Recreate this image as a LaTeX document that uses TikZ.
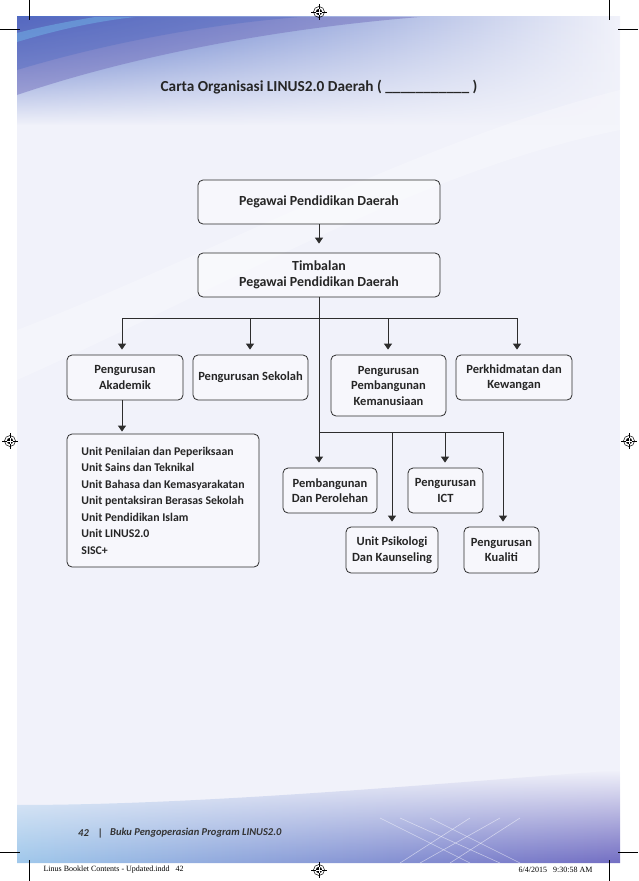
\documentclass[tikz,border=0pt]{standalone}
\usepackage{fontspec}
\setmainfont{Carlito}
\newfontfamily\slugfont{Liberation Serif}
\usetikzlibrary{arrows.meta,fadings}
\definecolor{pagebg}{RGB}{241,242,250}
\definecolor{linegray}{RGB}{45,45,45}
\definecolor{topblue}{RGB}{75,105,195}
\definecolor{topviolet}{RGB}{110,105,185}
\definecolor{topcyan}{RGB}{110,170,225}
\definecolor{botblue}{RGB}{160,200,235}
\definecolor{botviolet}{RGB}{115,110,195}
\tikzset{
  orgbox/.style={draw=linegray, line width=0.8pt, rounded corners=5pt, fill=white, fill opacity=0.45, text opacity=1, align=center, inner sep=0pt, text=black!85, font=\bfseries\fontsize{12.5}{15.5}\selectfont},
  topbox/.style={orgbox, minimum width=242pt, minimum height=44pt, font=\bfseries\fontsize{13.9}{16.5}\selectfont},
  link/.style={draw=linegray, line width=1pt},
  regmark/.style={line width=0.5pt},
  foot/.style={anchor=west, inner sep=0pt, font=\bfseries\itshape\fontsize{10.5}{13}\selectfont, text=black!80}
}
\begin{document}
\begin{tikzpicture}[x=1pt,y=-1pt,>={Triangle[width=8pt,length=6pt]}]
\useasboundingbox (0,0) rectangle (638,881);
% page and its bands
\fill[pagebg] (17,17) rectangle (620,863);
\shade[left color=topblue, right color=pagebg, path fading=south] (17,17) rectangle (620,125);
\fill[topviolet, opacity=.45] (17,95) .. controls (120,60) and (260,30) .. (420,17) -- (17,17) -- cycle;
\fill[topblue, opacity=.35] (17,70) .. controls (100,45) and (200,25) .. (300,17) -- (17,17) -- cycle;
\fill[topcyan, opacity=.6] (17,42) .. controls (50,32) and (90,22) .. (135,17) -- (95,17) .. controls (65,22) and (40,27) .. (17,33) -- cycle;
\fill[white, opacity=.25] (620,90) .. controls (420,140) and (200,260) .. (17,330) -- (17,380) .. controls (220,290) and (420,170) .. (620,130) -- cycle;
\shade[left color=botblue, right color=botviolet, path fading=north] (17,805) .. controls (200,805) and (420,785) .. (620,770) -- (620,863) -- (17,863) -- cycle;
\foreach \a/\b in {380/470, 400/500, 430/520, 470/400, 500/420, 520/450}
  \draw[white, opacity=.5, line width=0.6pt] (\a,818) -- (\b,863);
% crop and registration marks
\foreach \x/\ya/\yb in {29/0/20, 609/0/20, 29/860/881, 609/860/881} \draw[regmark] (\x,\ya) -- (\x,\yb);
\foreach \y/\xa/\xb in {29/0/20, 29/618/638, 852/0/20, 852/618/638} \draw[regmark] (\xa,\y) -- (\xb,\y);
\foreach \x/\y in {319/12, 319/870, 10/441, 629/441} {
  \draw[regmark] (\x,\y) circle (5.5pt);
  \fill (\x,\y) circle (3.2pt);
  \draw[regmark] (\x-8,\y) -- (\x+8,\y) (\x,\y-8) -- (\x,\y+8);
  \draw[white, line width=0.5pt] (\x-3.2,\y) -- (\x+3.2,\y) (\x,\y-3.2) -- (\x,\y+3.2);
}
% title
\node[font=\bfseries\fontsize{15.3}{18}\selectfont, text=black!85] (title) at (319,87) {Carta Organisasi LINUS2.0 Daerah ( \_\_\_\_\_\_\_\_\_\_\_ )};
% boxes
\node[topbox] (ppd) at (319,202) {Pegawai Pendidikan Daerah};
\node[topbox] (tppd) at (319,275) {Timbalan\\Pegawai Pendidikan Daerah};
\node[orgbox, minimum width=116pt, minimum height=45pt] (akad) at (125,377.5) {Pengurusan\\Akademik};
\node[orgbox, minimum width=115pt, minimum height=45pt] (sekolah) at (250.5,377.5) {Pengurusan Sekolah};
\node[orgbox, minimum width=115pt, minimum height=61pt] (kemanusiaan) at (388.5,385.5) {Pengurusan\\Pembangunan\\Kemanusiaan};
\node[orgbox, minimum width=116pt, minimum height=45pt] (kewangan) at (514,377.5) {Perkhidmatan dan\\Kewangan};
\node[orgbox, minimum width=192pt, minimum height=133pt, align=left, font=\bfseries\fontsize{11.8}{16.5}\selectfont] (unit) at (163,500.5) {Unit Penilaian dan Peperiksaan\\Unit Sains dan Teknikal\\Unit Bahasa dan Kemasyarakatan\\Unit pentaksiran Berasas Sekolah\\Unit Pendidikan Islam\\Unit LINUS2.0\\SISC+};
\node[orgbox, minimum width=94pt, minimum height=45pt] (perolehan) at (330,490.5) {Pembangunan\\Dan Perolehan};
\node[orgbox, minimum width=75pt, minimum height=45pt] (ict) at (445.5,490.5) {Pengurusan\\ICT};
\node[orgbox, minimum width=92pt, minimum height=46pt] (kaunseling) at (392,550) {Unit Psikologi\\Dan Kaunseling};
\node[orgbox, minimum width=75pt, minimum height=46pt] (kualiti) at (501.5,550) {Pengurusan\\Kualiti};
% connectors
\coordinate (b1) at (122,318);
\coordinate (b2) at (250,318);
\coordinate (b3) at (388,318);
\coordinate (b4) at (517,318);
\coordinate (c1) at (319,432);
\coordinate (c2) at (392,432);
\coordinate (c3) at (445,432);
\coordinate (c4) at (503,432);
\draw[link, ->, shorten >=9pt] (ppd) -- (tppd);
\draw[link] (tppd) -- (c1);
\draw[link] (b1) -- (b4);
\draw[link] (c1) -- (c4);
\foreach \b/\n in {b1/akad, b2/sekolah, b3/kemanusiaan, b4/kewangan, c1/perolehan, c2/kaunseling, c3/ict, c4/kualiti}
  \draw[link, ->, shorten >=5pt] (\b) -- (\b |- \n.north);
\draw[link, ->, shorten >=2pt] (b1 |- akad.south) -- (b1 |- unit.north);
% footer
\node[foot] (pageno) at (78,833) {42};
\node[foot] (pagebar) at (98,833) {|};
\node[foot] (booktitle) at (110,833) {Buku Pengoperasian Program LINUS2.0};
\node[anchor=west, font=\slugfont\fontsize{8}{10}\selectfont] (slugl) at (40,870) {Linus Booklet Contents - Updated.indd \ \ 42};
\node[anchor=east, font=\slugfont\fontsize{8}{10}\selectfont] (slugr) at (596,870) {6/4/2015 \ \ 9:30:58 AM};
\end{tikzpicture}
\end{document}
